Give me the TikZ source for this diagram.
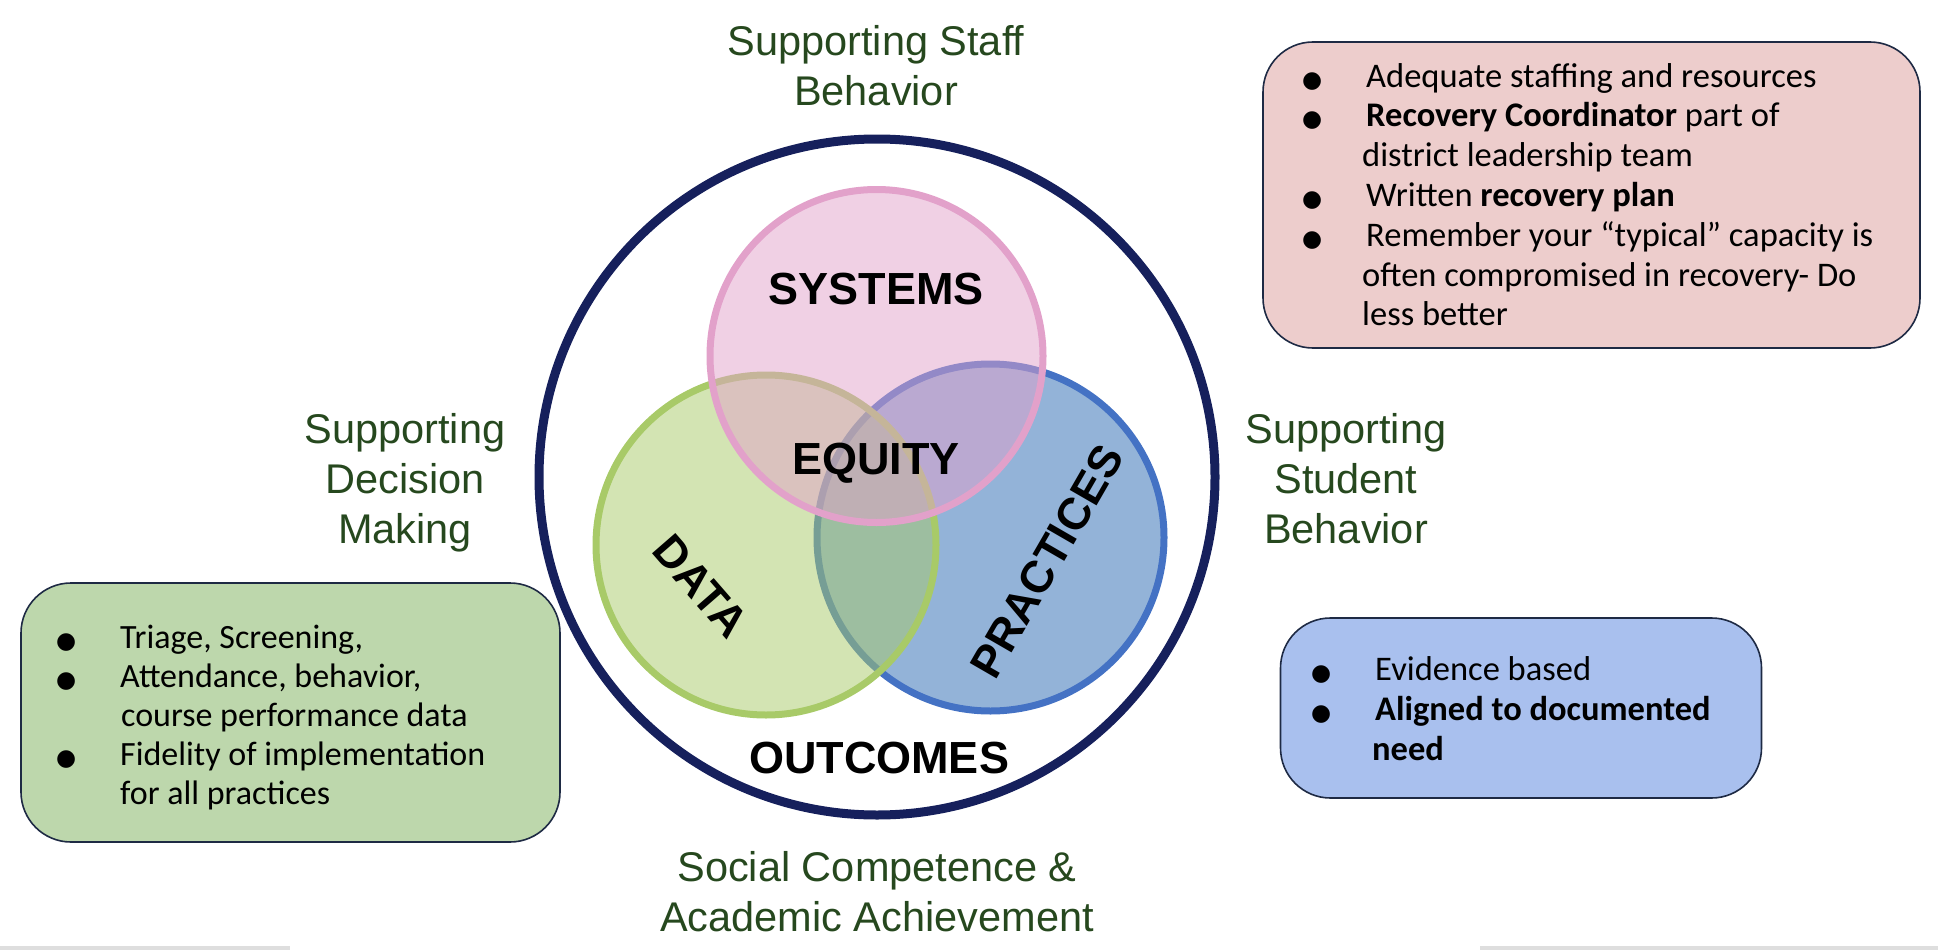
\documentclass[tikz,border=0pt]{standalone}
\usepackage{fontspec}
\setmainfont{Liberation Sans}
\newfontfamily\notefont{Carlito}
\newfontfamily\dotfont{DejaVu Sans}
\usepackage{tikz}
\usetikzlibrary{positioning}
\definecolor{rimcolor}{RGB}{22,32,92}
\definecolor{syscolor}{RGB}{226,161,202}
\definecolor{datacolor}{RGB}{168,202,104}
\definecolor{praccolor}{RGB}{68,114,196}
\definecolor{pracfill}{RGB}{75,128,190}
\definecolor{labelgreen}{RGB}{38,72,30}
\definecolor{boxline}{RGB}{30,42,68}
\definecolor{staffpink}{RGB}{237,205,204}
\definecolor{datagreen}{RGB}{189,215,172}
\definecolor{pracblue}{RGB}{169,192,238}
\definecolor{barcolor}{RGB}{222,222,222}

\newcommand{\bul}{{\dotfont\fontsize{23}{23}\selectfont ●}}
\newcommand{\itm}[1]{\makebox[64pt][l]{\bul}#1}

\tikzset{
  ring/.style={circle,inner sep=0pt,line width=7pt},
  areatitle/.style={font=\fontsize{45}{54}\selectfont\bfseries},
  sidelabel/.style={text=labelgreen,align=center,font=\fontsize{41.5}{50}\selectfont},
  notebox/.style={draw=boxline,line width=1.6pt,rounded corners=50pt},
  notetext/.style={align=left,anchor=north west,inner sep=0pt}
}

\begin{document}
\begin{tikzpicture}[x=1pt,y=-1pt]
  \useasboundingbox (0,0) rectangle (1938,950);
  \fill[barcolor] (0,946) rectangle (290,950);
  \fill[barcolor] (1480,946) rectangle (1938,950);

  % venn rings
  \node[ring,draw=praccolor,fill=pracfill,fill opacity=0.6,minimum size=347pt] (pracring) at (990.5,537.5) {};
  \node[ring,draw=datacolor,fill=datacolor,fill opacity=0.5,minimum size=340pt] (dataring) at (766,545) {};
  \node[ring,draw=syscolor,fill=syscolor,fill opacity=0.5,minimum size=333pt] (sysring) at (876.5,356) {};
  \node[circle,draw=rimcolor,line width=9pt,inner sep=0pt,minimum size=676pt] (outcome) at (877,477) {};

  \node[areatitle] (systems) at (876,289) {SYSTEMS};
  \node[areatitle] (equity) at (876,463) {EQUITY};
  \node[areatitle,rotate=-49] (data) at (701,586) {DATA};
  \node[areatitle,rotate=60] (practices) at (1047,561) {PRACTICES};
  \node[areatitle] (outcomes) at (879,758) {OUTCOMES};

  \node[sidelabel] (staff) at (876,66) {Supporting Staff\\Behavior};
  \node[sidelabel] (decision) at (405,483) {Supporting\\Decision\\Making};
  \node[sidelabel] (student) at (1346,479) {Supporting\\Student\\Behavior};
  \node[sidelabel] (social) at (877,892) {Social Competence \&\\Academic Achievement};

  % note boxes
  \node[notebox,fill=staffpink,minimum width=657pt,minimum height=306pt] (staffbox) at (1591.5,195) {};
  \node[notetext,font=\notefont\fontsize{34.5}{39.8}\selectfont] (staffnotes) at (1302,63)
    {\itm{Adequate staffing and resources}\\
     \itm{\textbf{Recovery Coordinator} part of}\\
     \hspace*{60pt}district leadership team\\
     \itm{Written \textbf{recovery plan}}\\
     \itm{Remember your “typical” capacity is}\\
     \hspace*{60pt}often compromised in recovery- Do\\
     \hspace*{60pt}less better};

  \node[notebox,fill=datagreen,minimum width=539pt,minimum height=259pt] (databox) at (290.5,712.5) {};
  \node[notetext,font=\notefont\fontsize{34}{39}\selectfont] (datanotes) at (56,625)
    {\itm{Triage, Screening,}\\
     \itm{Attendance, behavior,}\\
     \hspace*{65pt}course performance data\\
     \itm{Fidelity of implementation}\\
     \hspace*{64pt}for all practices};

  \node[notebox,fill=pracblue,minimum width=481pt,minimum height=180pt] (pracbox) at (1521,708) {};
  \node[notetext,font=\notefont\fontsize{34.5}{40}\selectfont] (pracnotes) at (1311,656)
    {\itm{Evidence based}\\
     \itm{\textbf{Aligned to documented}}\\
     \hspace*{61pt}\textbf{need}};
\end{tikzpicture}
\end{document}
